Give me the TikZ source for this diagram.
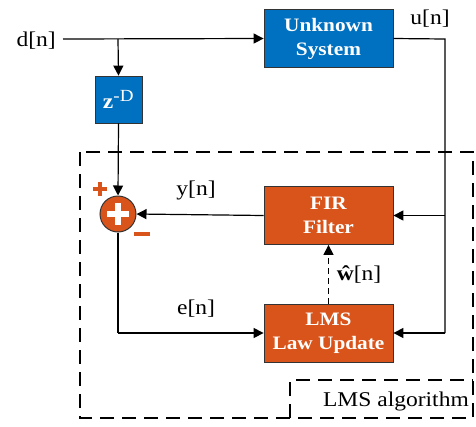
\documentclass[tikz,border=0pt]{standalone}
\usepackage{fontspec}
\setmainfont{Liberation Serif}[FakeStretch=1.12]
\usetikzlibrary{arrows.meta,calc}
\definecolor{sysblue}{HTML}{0070C0}
\definecolor{lmsorange}{HTML}{D9541A}
\definecolor{edge}{HTML}{333333}
\begin{document}
\begin{tikzpicture}[x=1pt,y=-1pt,
  conn/.style={line width=1.2pt,-{Triangle[length=10pt,width=10pt]}},
  line/.style={line width=1.2pt},
  bluebox/.style={draw=edge,line width=0.8pt,fill=sysblue,text=white,font=\fontsize{19}{24}\selectfont\bfseries,align=center,inner sep=0pt},
  orangebox/.style={draw=edge,line width=0.8pt,fill=lmsorange,text=white,font=\fontsize{19}{24}\selectfont\bfseries,align=center,inner sep=0pt},
  lbl/.style={font=\fontsize{21}{24}\selectfont,inner sep=0pt},
  dashbox/.style={line width=2.4pt,dash pattern=on 14pt off 8pt}]
\useasboundingbox (0,0) rectangle (476,426);
% nodes
\node[bluebox,minimum width=129pt,minimum height=58pt] (sys) at (328.5,38.5) {Unknown\\System};
\node[bluebox,minimum width=47pt,minimum height=47pt] (zd) at (118.5,99.5) {\fontsize{21}{21}\selectfont z\textsuperscript{\normalfont\fontsize{17}{17}\selectfont -D}};
\node[orangebox,minimum width=129pt,minimum height=58pt] (fir) at (328.5,215.5) {FIR\\Filter};
\node[orangebox,minimum width=129pt,minimum height=58pt] (lms) at (328.5,333) {LMS\\Law Update};
\node[circle,draw=edge,line width=1pt,fill=lmsorange,minimum size=36pt,inner sep=0pt] (sum) at (118,214) {};
\draw[white,line width=5.5pt] ($(sum.center)+(-11,0)$) -- ($(sum.center)+(11,0)$);
\draw[white,line width=5.5pt] ($(sum.center)+(0,-11)$) -- ($(sum.center)+(0,11)$);
% plus / minus marks
\coordinate (pm) at (100,189);
\draw[lmsorange,line width=3.5pt] ($(pm)+(-7,0)$) -- ($(pm)+(7,0)$);
\draw[lmsorange,line width=3.5pt] ($(pm)+(0,-7)$) -- ($(pm)+(0,7)$);
\coordinate (mm) at (142,234);
\draw[lmsorange,line width=3.5pt] ($(mm)+(-8,0)$) -- ($(mm)+(8,0)$);
% labels
\node[lbl,anchor=east] (dn) at (56,41) {d[n]};
\node[lbl] (un) at (430,19) {u[n]};
\node[lbl] (yn) at (196,190) {y[n]};
\node[lbl] (en) at (196,309) {e[n]};
\node[lbl] (wn) at (359,274) {\textbf{ŵ}[n]};
\node[lbl,anchor=east] (alg) at (469,401) {LMS algorithm};
% coordinates
\coordinate (din) at (63,39);
\coordinate (br) at (118,39);
\coordinate (rt) at (445,39);
\coordinate (rfir) at (445,215.5);
\coordinate (rlms) at (445,333);
\coordinate (eb) at (118,333);
% connectors
\draw[conn] (din) -- (sys.west);
\draw[conn] (br) -- (zd.north);
\draw[line] (sys.east) -- (rt) -- (rlms);
\draw[conn] (rfir) -- (fir.east);
\draw[conn] (rlms) -- (lms.east);
\draw[conn] (zd.south) -- (sum.north);
\draw[conn] (fir.west) -- (sum.east);
\draw[line] (sum.south) -- (eb);
\draw[conn] (eb) -- (lms.west);
\draw[conn,dash pattern=on 6pt off 4pt] (lms.north) -- (fir.south);
% dashed frames
\draw[dashbox] (80,152) rectangle (473,418);
\draw[dashbox] (290,418) -- (290,380) -- (473,380);
\end{tikzpicture}
\end{document}
